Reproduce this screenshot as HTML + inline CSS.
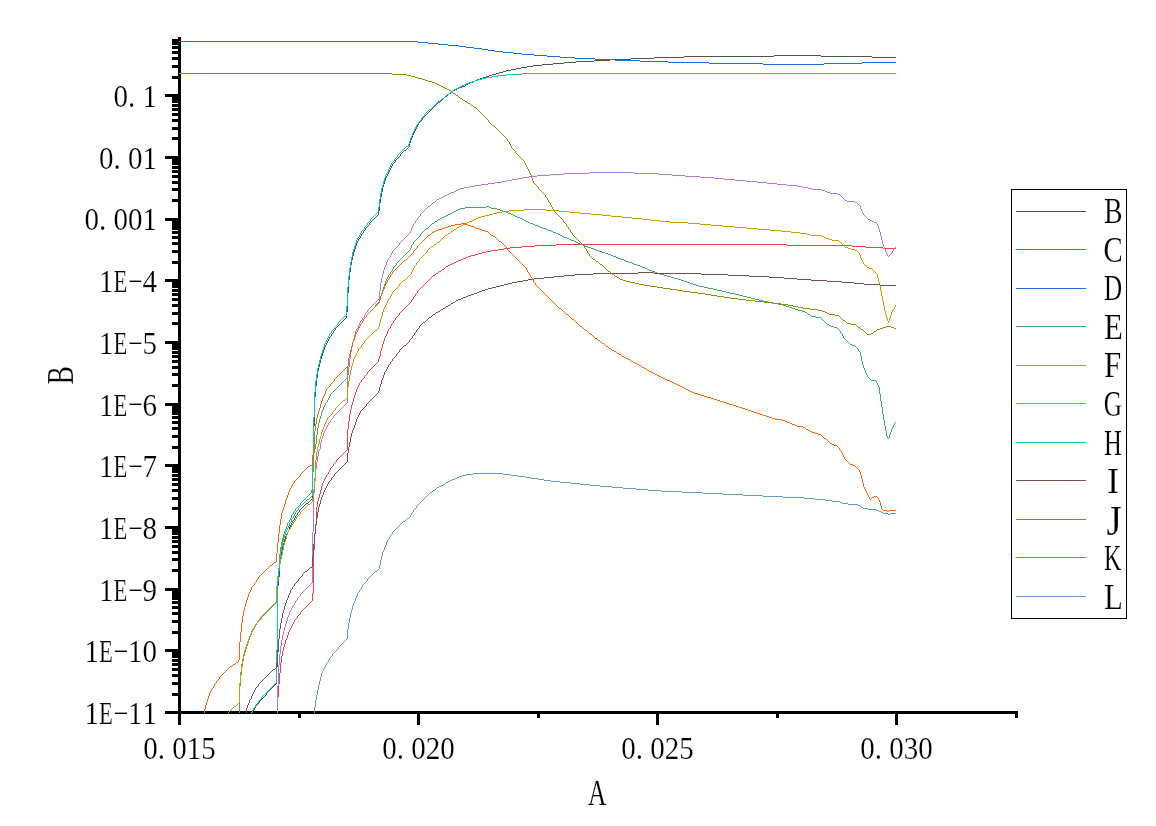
<!DOCTYPE html>
<html><head><meta charset="utf-8"><title>Graph</title>
<style>
html,body{margin:0;padding:0;background:#fff;}
body{width:1156px;height:826px;overflow:hidden;}
svg{display:block;}
.t{font-family:"Liberation Serif","Noto Serif CJK SC",serif;fill:#000;stroke:#fff;stroke-width:0.18px;}
.c{fill:none;stroke-width:1;stroke-linejoin:round;stroke-linecap:butt;}
</style></head><body>
<svg width="1156" height="826" viewBox="0 0 1156 826">
<rect width="1156" height="826" fill="#fff"/>
<g id="axes" fill="#000" shape-rendering="crispEdges">
<rect x="178" y="37" width="3" height="688"/>
<rect x="165" y="711" width="852" height="3"/>
<rect x="172" y="693" width="7" height="3"/>
<rect x="172" y="682" width="7" height="3"/>
<rect x="172" y="674" width="7" height="3"/>
<rect x="172" y="668" width="7" height="3"/>
<rect x="172" y="663" width="7" height="3"/>
<rect x="172" y="659" width="7" height="3"/>
<rect x="172" y="655" width="7" height="3"/>
<rect x="172" y="652" width="7" height="3"/>
<rect x="165" y="649" width="14" height="3"/>
<rect x="172" y="631" width="7" height="3"/>
<rect x="172" y="620" width="7" height="3"/>
<rect x="172" y="612" width="7" height="3"/>
<rect x="172" y="606" width="7" height="3"/>
<rect x="172" y="601" width="7" height="3"/>
<rect x="172" y="597" width="7" height="3"/>
<rect x="172" y="594" width="7" height="3"/>
<rect x="172" y="591" width="7" height="3"/>
<rect x="165" y="588" width="14" height="3"/>
<rect x="172" y="569" width="7" height="3"/>
<rect x="172" y="558" width="7" height="3"/>
<rect x="172" y="551" width="7" height="3"/>
<rect x="172" y="545" width="7" height="3"/>
<rect x="172" y="540" width="7" height="3"/>
<rect x="172" y="536" width="7" height="3"/>
<rect x="172" y="532" width="7" height="3"/>
<rect x="172" y="529" width="7" height="3"/>
<rect x="165" y="526" width="14" height="3"/>
<rect x="172" y="507" width="7" height="3"/>
<rect x="172" y="497" width="7" height="3"/>
<rect x="172" y="489" width="7" height="3"/>
<rect x="172" y="483" width="7" height="3"/>
<rect x="172" y="478" width="7" height="3"/>
<rect x="172" y="474" width="7" height="3"/>
<rect x="172" y="470" width="7" height="3"/>
<rect x="172" y="467" width="7" height="3"/>
<rect x="165" y="464" width="14" height="3"/>
<rect x="172" y="446" width="7" height="3"/>
<rect x="172" y="435" width="7" height="3"/>
<rect x="172" y="427" width="7" height="3"/>
<rect x="172" y="421" width="7" height="3"/>
<rect x="172" y="416" width="7" height="3"/>
<rect x="172" y="412" width="7" height="3"/>
<rect x="172" y="409" width="7" height="3"/>
<rect x="172" y="406" width="7" height="3"/>
<rect x="165" y="403" width="14" height="3"/>
<rect x="172" y="384" width="7" height="3"/>
<rect x="172" y="373" width="7" height="3"/>
<rect x="172" y="366" width="7" height="3"/>
<rect x="172" y="360" width="7" height="3"/>
<rect x="172" y="355" width="7" height="3"/>
<rect x="172" y="351" width="7" height="3"/>
<rect x="172" y="347" width="7" height="3"/>
<rect x="172" y="344" width="7" height="3"/>
<rect x="165" y="341" width="14" height="3"/>
<rect x="172" y="322" width="7" height="3"/>
<rect x="172" y="312" width="7" height="3"/>
<rect x="172" y="304" width="7" height="3"/>
<rect x="172" y="298" width="7" height="3"/>
<rect x="172" y="293" width="7" height="3"/>
<rect x="172" y="289" width="7" height="3"/>
<rect x="172" y="285" width="7" height="3"/>
<rect x="172" y="282" width="7" height="3"/>
<rect x="165" y="279" width="14" height="3"/>
<rect x="172" y="261" width="7" height="3"/>
<rect x="172" y="250" width="7" height="3"/>
<rect x="172" y="242" width="7" height="3"/>
<rect x="172" y="236" width="7" height="3"/>
<rect x="172" y="231" width="7" height="3"/>
<rect x="172" y="227" width="7" height="3"/>
<rect x="172" y="224" width="7" height="3"/>
<rect x="172" y="221" width="7" height="3"/>
<rect x="165" y="218" width="14" height="3"/>
<rect x="172" y="199" width="7" height="3"/>
<rect x="172" y="188" width="7" height="3"/>
<rect x="172" y="181" width="7" height="3"/>
<rect x="172" y="175" width="7" height="3"/>
<rect x="172" y="170" width="7" height="3"/>
<rect x="172" y="166" width="7" height="3"/>
<rect x="172" y="162" width="7" height="3"/>
<rect x="172" y="159" width="7" height="3"/>
<rect x="165" y="156" width="14" height="3"/>
<rect x="172" y="137" width="7" height="3"/>
<rect x="172" y="127" width="7" height="3"/>
<rect x="172" y="119" width="7" height="3"/>
<rect x="172" y="113" width="7" height="3"/>
<rect x="172" y="108" width="7" height="3"/>
<rect x="172" y="104" width="7" height="3"/>
<rect x="172" y="100" width="7" height="3"/>
<rect x="172" y="97" width="7" height="3"/>
<rect x="165" y="94" width="14" height="3"/>
<rect x="172" y="76" width="7" height="3"/>
<rect x="172" y="65" width="7" height="3"/>
<rect x="172" y="57" width="7" height="3"/>
<rect x="172" y="51" width="7" height="3"/>
<rect x="172" y="46" width="7" height="3"/>
<rect x="172" y="42" width="7" height="3"/>
<rect x="172" y="39" width="7" height="3"/>
<rect x="417" y="711" width="3" height="14"/>
<rect x="656" y="711" width="3" height="14"/>
<rect x="895" y="711" width="3" height="14"/>
<rect x="298" y="711" width="3" height="7"/>
<rect x="537" y="711" width="3" height="7"/>
<rect x="776" y="711" width="3" height="7"/>
<rect x="1015" y="711" width="3" height="7"/>
</g>
<g id="curves" shape-rendering="crispEdges" fill="none" stroke-width="1">
<path stroke="#515151" d="M774 55.5h47M684 56.5h90M821 56.5h51M654 57.5h30M872 57.5h24M631 58.5h23M610 59.5h21M594 60.5h16M576 61.5h18M564 62.5h12M553 63.5h11M542 64.5h11M533 65.5h9M527 66.5h6M521 67.5h6M516 68.5h5M511 69.5h5M506 70.5h5M503 71.5h3M499 72.5h4M496 73.5h3M492 74.5h4M489 75.5h3M486 76.5h3M483 77.5h3M480 78.5h3M477 79.5h3M475 80.5h2M473 81.5h2M470 82.5h3M468 83.5h2M466 84.5h2M465 85.5h1M462 86.5h3M459 87.5h3M457 88.5h2M455 89.5h2M453 90.5h2M452 91.5h1M451 92.5h1M449 93.5h2M448 94.5h1M447 95.5h1M445 96.5h2M444 97.5h1M443 98.5h1M442 99.5h1M441 100.5h1M440 101.5h1M438 102.5h2M437 103.5h1M436 104.5h1M435 105.5h1M434 106.5h1M433 107.5h1M432 108.5h1M431 109.5h1M430 110.5h1M429 111.5h1M428 112.5h1M427 113.5h1M426 114.5h1M425 115.5h1M424 116.5h1M423 117.5h1M421 120.5h1M420 121.5h1M419 122.5h1M408 147.5h1M407 148.5h1M406 149.5h1M404 150.5h2M403 151.5h1M402 152.5h1M401 153.5h1M399 156.5h1M398 157.5h1M397 158.5h1M396 159.5h1M394 162.5h1M393 163.5h1M377 215.5h1M376 216.5h1M375 217.5h1M374 218.5h1M373 219.5h1M372 220.5h1M371 221.5h1M370 222.5h1M368 225.5h1M367 226.5h1M366 227.5h1M364 230.5h1M362 233.5h1M359 238.5h1M345 318.5h1M344 319.5h1M343 320.5h1M342 321.5h1M341 322.5h1M340 323.5h1M339 324.5h1M338 325.5h1M337 326.5h1M336 327.5h1M334 330.5h1M332 333.5h1M330 336.5h1M311 499.5h1M310 500.5h1M309 501.5h1M308 502.5h1M306 503.5h2M305 504.5h1M304 505.5h1M303 506.5h1M302 507.5h1M301 508.5h1M300 509.5h1M298 512.5h1M296 515.5h1M293 520.5h1M275 684.5h1M274 685.5h1M273 686.5h1M272 687.5h1M271 688.5h1M270 689.5h1M269 690.5h1M268 691.5h1M267 692.5h1M265 695.5h1M264 696.5h1M263 697.5h1M262 698.5h1M261 699.5h1M260 700.5h1M258 703.5h1M257 704.5h1M256 705.5h1M253 710.5h1M251 713.5h1M252.5 711v2M254.5 708v2M255.5 706v2M259.5 701v2M266.5 693v2M276.5 667v17M277.5 586v81M278.5 577v9M279.5 564v13M280.5 557v7M281.5 551v6M282.5 546v5M283.5 543v3M284.5 539v4M285.5 536v3M286.5 534v2M287.5 532v2M288.5 530v2M289.5 527v3M290.5 525v2M291.5 523v2M292.5 521v2M294.5 518v2M295.5 516v2M297.5 513v2M299.5 510v2M312.5 470v29M313.5 426v44M314.5 397v29M315.5 386v11M316.5 378v8M317.5 371v7M318.5 367v4M319.5 363v4M320.5 359v4M321.5 356v3M322.5 353v3M323.5 350v3M324.5 347v3M325.5 345v2M326.5 343v2M327.5 341v2M328.5 339v2M329.5 337v2M331.5 334v2M333.5 331v2M335.5 328v2M346.5 312v6M347.5 293v19M348.5 280v13M349.5 272v8M350.5 265v7M351.5 260v5M352.5 256v4M353.5 252v4M354.5 249v3M355.5 246v3M356.5 243v3M357.5 241v2M358.5 239v2M360.5 236v2M361.5 234v2M363.5 231v2M365.5 228v2M369.5 223v2M378.5 211v4M379.5 203v8M380.5 197v6M381.5 192v5M382.5 187v5M383.5 184v3M384.5 181v3M385.5 178v3M386.5 176v2M387.5 174v2M388.5 172v2M389.5 170v2M390.5 168v2M391.5 166v2M392.5 164v2M395.5 160v2M400.5 154v2M409.5 143v4M410.5 140v3M411.5 138v2M412.5 135v3M413.5 133v2M414.5 131v2M415.5 129v2M416.5 127v2M417.5 125v2M418.5 123v2M422.5 118v2"/>
<path stroke="#F14040" d="M556 244.5h231M535 245.5h21M787 245.5h65M522 246.5h13M852 246.5h14M510 247.5h12M866 247.5h17M504 248.5h6M883 248.5h13M498 249.5h6M491 250.5h7M486 251.5h5M482 252.5h4M478 253.5h4M475 254.5h3M471 255.5h4M468 256.5h3M466 257.5h2M463 258.5h3M461 259.5h2M458 260.5h3M456 261.5h2M454 262.5h2M452 263.5h2M450 264.5h2M448 265.5h2M446 266.5h2M445 267.5h1M444 268.5h1M442 269.5h2M441 270.5h1M439 271.5h2M438 272.5h1M436 273.5h2M435 274.5h1M433 275.5h2M432 276.5h1M431 277.5h1M430 278.5h1M429 279.5h1M428 280.5h1M427 281.5h1M426 282.5h1M425 283.5h1M424 284.5h1M423 285.5h1M422 286.5h1M421 287.5h1M420 288.5h1M419 289.5h1M418 290.5h1M416 293.5h1M414 296.5h1M412 299.5h1M410 302.5h1M409 303.5h1M408 304.5h1M407 305.5h1M406 306.5h1M405 307.5h1M404 308.5h1M403 309.5h1M402 310.5h1M401 311.5h1M400 312.5h1M398 315.5h1M397 316.5h1M396 317.5h1M394 320.5h1M392 323.5h1M389 328.5h1M377 362.5h1M376 363.5h1M375 364.5h1M374 365.5h1M373 366.5h1M372 367.5h1M371 368.5h1M370 369.5h1M369 370.5h1M368 371.5h1M366 374.5h1M365 375.5h1M363 378.5h1M362 379.5h1M360 382.5h1M346 450.5h1M345 451.5h1M344 452.5h1M343 453.5h1M342 454.5h1M341 455.5h1M340 456.5h1M339 457.5h1M338 458.5h1M337 459.5h1M335 462.5h1M334 463.5h1M332 466.5h1M331 467.5h1M327 474.5h1M311 601.5h1M310 602.5h1M309 603.5h1M308 604.5h1M307 605.5h1M306 606.5h1M305 607.5h1M304 608.5h1M303 609.5h1M302 610.5h1M301 611.5h1M299 614.5h1M298 615.5h1M296 618.5h1M295 619.5h1M277.5 697v16M278.5 684v13M279.5 673v11M280.5 663v10M281.5 656v7M282.5 651v5M283.5 647v4M284.5 644v3M285.5 640v4M286.5 638v2M287.5 635v3M288.5 632v3M289.5 630v2M290.5 628v2M291.5 626v2M292.5 624v2M293.5 622v2M294.5 620v2M297.5 616v2M300.5 612v2M312.5 593v8M313.5 550v43M314.5 533v17M315.5 524v9M316.5 507v17M317.5 501v6M318.5 498v3M319.5 494v4M320.5 490v4M321.5 486v4M322.5 483v3M323.5 481v2M324.5 479v2M325.5 477v2M326.5 475v2M328.5 472v2M329.5 470v2M330.5 468v2M333.5 464v2M336.5 460v2M347.5 429v21M348.5 421v8M349.5 414v7M350.5 409v5M351.5 405v4M352.5 402v3M353.5 398v4M354.5 395v3M355.5 392v3M356.5 389v3M357.5 387v2M358.5 385v2M359.5 383v2M361.5 380v2M364.5 376v2M367.5 372v2M378.5 359v3M379.5 356v3M380.5 351v5M381.5 348v3M382.5 344v4M383.5 341v3M384.5 338v3M385.5 336v2M386.5 334v2M387.5 331v3M388.5 329v2M390.5 326v2M391.5 324v2M393.5 321v2M395.5 318v2M399.5 313v2M411.5 300v2M413.5 297v2M415.5 294v2M417.5 291v2"/>
<path stroke="#1A6FDF" d="M179 41.5h239M418 42.5h10M428 43.5h10M438 44.5h10M448 45.5h11M459 46.5h7M466 47.5h8M474 48.5h8M482 49.5h6M488 50.5h7M495 51.5h8M503 52.5h10M513 53.5h9M522 54.5h12M534 55.5h13M547 56.5h13M560 57.5h15M575 58.5h20M595 59.5h20M615 60.5h25M640 61.5h28M668 62.5h41M862 62.5h34M709 63.5h54M824 63.5h38M763 64.5h61"/>
<path stroke="#37AD6B" d="M486 206.5h3M465 207.5h21M489 207.5h2M460 208.5h5M491 208.5h6M458 209.5h2M497 209.5h3M456 210.5h2M500 210.5h3M454 211.5h2M503 211.5h3M452 212.5h2M506 212.5h2M450 213.5h2M508 213.5h3M448 214.5h2M511 214.5h2M446 215.5h2M513 215.5h2M444 216.5h2M515 216.5h2M442 217.5h2M517 217.5h3M440 218.5h2M520 218.5h2M438 219.5h2M522 219.5h2M437 220.5h1M524 220.5h2M435 221.5h2M526 221.5h2M434 222.5h1M528 222.5h2M432 223.5h2M530 223.5h3M431 224.5h1M533 224.5h2M430 225.5h1M535 225.5h3M429 226.5h1M538 226.5h2M428 227.5h1M540 227.5h3M426 228.5h2M543 228.5h3M425 229.5h1M546 229.5h2M424 230.5h1M548 230.5h3M423 231.5h1M551 231.5h2M422 232.5h1M553 232.5h3M421 233.5h1M556 233.5h2M558 234.5h2M560 235.5h2M419 236.5h1M562 236.5h2M418 237.5h1M564 237.5h3M417 238.5h1M567 238.5h2M416 239.5h1M569 239.5h2M415 240.5h1M571 240.5h3M414 241.5h1M574 241.5h2M576 242.5h2M578 243.5h2M412 244.5h1M580 244.5h3M583 245.5h2M585 246.5h3M588 247.5h3M591 248.5h3M594 249.5h2M409 250.5h1M596 250.5h3M408 251.5h1M599 251.5h3M407 252.5h1M602 252.5h3M406 253.5h1M605 253.5h3M405 254.5h1M608 254.5h3M404 255.5h1M611 255.5h2M403 256.5h1M613 256.5h3M402 257.5h1M616 257.5h2M401 258.5h1M618 258.5h3M400 259.5h1M621 259.5h3M399 260.5h1M624 260.5h2M398 261.5h1M626 261.5h3M397 262.5h1M629 262.5h3M632 263.5h2M634 264.5h3M395 265.5h1M637 265.5h3M394 266.5h1M640 266.5h2M642 267.5h3M645 268.5h2M647 269.5h2M649 270.5h3M391 271.5h1M652 271.5h3M655 272.5h2M657 273.5h3M389 274.5h1M660 274.5h4M664 275.5h3M667 276.5h4M671 277.5h3M674 278.5h4M678 279.5h3M681 280.5h3M684 281.5h3M687 282.5h3M690 283.5h3M693 284.5h3M696 285.5h3M699 286.5h5M704 287.5h4M708 288.5h5M713 289.5h4M717 290.5h5M722 291.5h4M726 292.5h4M730 293.5h5M735 294.5h4M739 295.5h4M743 296.5h4M747 297.5h4M751 298.5h4M755 299.5h4M759 300.5h4M763 301.5h5M378 302.5h1M768 302.5h5M377 303.5h1M773 303.5h5M376 304.5h1M778 304.5h5M783 305.5h3M786 306.5h3M374 307.5h1M789 307.5h3M373 308.5h1M792 308.5h3M372 309.5h1M795 309.5h3M371 310.5h1M798 310.5h4M370 311.5h1M802 311.5h3M369 312.5h1M805 312.5h2M368 313.5h1M807 313.5h1M367 314.5h1M808 314.5h2M810 315.5h1M811 316.5h5M365 317.5h1M816 317.5h5M364 318.5h1M821 318.5h1M822 319.5h1M823 320.5h1M824 321.5h1M825 322.5h1M361 323.5h1M826 323.5h1M827 324.5h2M829 325.5h2M831 326.5h3M834 327.5h3M837 328.5h1M838 329.5h1M839 330.5h1M841 333.5h1M844 338.5h1M845 339.5h1M846 340.5h1M847 341.5h1M848 342.5h1M849 343.5h1M850 344.5h2M852 345.5h3M855 346.5h1M856 347.5h1M857 348.5h1M859 351.5h1M868 377.5h1M346 378.5h1M869 378.5h1M345 379.5h1M870 379.5h1M344 380.5h1M871 380.5h5M343 381.5h1M342 382.5h1M341 383.5h1M340 384.5h1M339 385.5h1M338 386.5h1M337 387.5h1M336 388.5h1M335 389.5h1M334 390.5h1M333 391.5h1M332 392.5h1M331 393.5h1M326 402.5h1M895 422.5h1M888 438.5h1M310 493.5h1M309 494.5h1M308 495.5h1M307 496.5h1M306 497.5h1M305 498.5h1M304 499.5h1M303 500.5h1M302 501.5h1M301 502.5h1M299 505.5h1M298 506.5h1M297 507.5h1M296 508.5h1M294 511.5h1M292 514.5h1M288 522.5h1M275 603.5h1M274 604.5h1M273 605.5h1M272 606.5h1M271 607.5h1M270 608.5h1M269 609.5h1M268 610.5h1M267 611.5h1M266 612.5h1M265 613.5h1M264 614.5h1M263 615.5h1M262 616.5h1M260 619.5h1M259 620.5h1M258 621.5h1M257 622.5h1M253 629.5h1M239.5 686v27M240.5 675v11M241.5 667v8M242.5 661v6M243.5 656v5M244.5 652v4M245.5 649v3M246.5 646v3M247.5 643v3M248.5 640v3M249.5 637v3M250.5 635v2M251.5 632v3M252.5 630v2M254.5 627v2M255.5 625v2M256.5 623v2M261.5 617v2M276.5 589v14M277.5 579v10M278.5 568v11M279.5 554v14M280.5 547v7M281.5 542v5M282.5 538v4M283.5 534v4M284.5 531v3M285.5 529v2M286.5 526v3M287.5 523v3M289.5 520v2M290.5 518v2M291.5 515v3M293.5 512v2M295.5 509v2M300.5 503v2M311.5 490v3M312.5 472v18M313.5 453v19M314.5 444v9M315.5 444v5M316.5 435v9M317.5 428v7M318.5 423v5M319.5 419v4M320.5 416v3M321.5 412v4M322.5 410v2M323.5 407v3M324.5 405v2M325.5 403v2M327.5 400v2M328.5 398v2M329.5 396v2M330.5 394v2M347.5 366v12M348.5 358v8M349.5 354v4M350.5 350v4M351.5 346v4M352.5 342v4M353.5 340v2M354.5 337v3M355.5 334v3M356.5 332v2M357.5 330v2M358.5 328v2M359.5 326v2M360.5 324v2M362.5 321v2M363.5 319v2M366.5 315v2M375.5 305v2M379.5 300v2M380.5 296v4M381.5 293v3M382.5 290v3M383.5 287v3M384.5 284v3M385.5 281v3M386.5 279v2M387.5 277v2M388.5 275v2M390.5 272v2M392.5 269v2M393.5 267v2M396.5 263v2M410.5 248v2M411.5 245v3M413.5 242v2M420.5 234v2M840.5 331v2M842.5 334v2M843.5 336v2M858.5 349v2M860.5 352v4M861.5 356v5M862.5 361v4M863.5 365v3M864.5 368v2M865.5 370v3M866.5 373v2M867.5 375v2M876.5 381v2M877.5 383v2M878.5 385v2M879.5 387v7M880.5 394v7M881.5 401v6M882.5 407v7M883.5 414v6M884.5 420v6M885.5 426v5M886.5 431v5M887.5 436v2M889.5 435v3M890.5 432v3M891.5 429v3M892.5 427v2M893.5 425v2M894.5 423v2"/>
<path stroke="#B177DE" d="M589 172.5h45M564 173.5h25M634 173.5h25M550 174.5h14M659 174.5h13M537 175.5h13M672 175.5h13M529 176.5h8M685 176.5h15M523 177.5h6M700 177.5h14M518 178.5h5M714 178.5h10M512 179.5h6M724 179.5h11M507 180.5h5M735 180.5h11M502 181.5h5M746 181.5h11M495 182.5h7M757 182.5h10M488 183.5h7M767 183.5h10M481 184.5h7M777 184.5h10M475 185.5h6M787 185.5h10M469 186.5h6M797 186.5h6M464 187.5h5M803 187.5h5M460 188.5h4M808 188.5h4M458 189.5h2M812 189.5h10M456 190.5h2M822 190.5h3M454 191.5h2M825 191.5h2M451 192.5h3M827 192.5h3M449 193.5h2M830 193.5h8M447 194.5h2M838 194.5h2M445 195.5h2M840 195.5h1M443 196.5h2M841 196.5h1M441 197.5h2M842 197.5h1M439 198.5h2M843 198.5h1M437 199.5h2M844 199.5h1M436 200.5h1M845 200.5h2M435 201.5h1M847 201.5h8M433 202.5h2M855 202.5h2M432 203.5h1M857 203.5h1M431 204.5h1M858 204.5h1M430 205.5h1M859 205.5h1M428 206.5h2M427 207.5h1M426 208.5h1M425 209.5h1M424 210.5h1M423 211.5h1M422 212.5h1M421 213.5h1M864 215.5h1M419 216.5h1M865 216.5h1M418 217.5h1M866 217.5h1M867 218.5h1M868 219.5h2M416 220.5h1M870 220.5h2M872 221.5h2M874 222.5h2M414 223.5h1M876 223.5h1M409 233.5h1M408 234.5h1M407 235.5h1M406 236.5h1M405 237.5h1M404 238.5h1M403 239.5h1M402 240.5h1M401 241.5h1M400 242.5h1M398 245.5h1M397 246.5h1M396 247.5h1M895 247.5h1M395 248.5h1M894 248.5h1M394 249.5h1M393 250.5h1M891 253.5h1M890 254.5h1M889 255.5h1M888 256.5h1M389 257.5h1M378 299.5h1M377 300.5h1M376 301.5h1M375 302.5h1M374 303.5h1M373 304.5h1M372 305.5h1M371 306.5h1M370 307.5h1M369 308.5h1M368 309.5h1M366 312.5h1M363 317.5h1M361 320.5h1M357 328.5h1M346 403.5h1M345 404.5h1M344 405.5h1M343 406.5h1M342 407.5h1M341 408.5h1M340 409.5h1M339 410.5h1M338 411.5h1M337 412.5h1M336 413.5h1M335 414.5h1M334 415.5h1M332 418.5h1M331 419.5h1M329 422.5h1M311 583.5h1M310 584.5h1M309 585.5h1M308 586.5h1M307 587.5h1M306 588.5h1M305 589.5h1M304 590.5h1M303 591.5h1M302 592.5h1M301 593.5h1M299 596.5h1M298 597.5h1M296 600.5h1M293 605.5h1M277.5 686v27M278.5 665v21M279.5 654v11M280.5 646v8M281.5 640v6M282.5 635v5M283.5 631v4M284.5 627v4M285.5 624v3M286.5 621v3M287.5 617v4M288.5 615v2M289.5 612v3M290.5 610v2M291.5 608v2M292.5 606v2M294.5 603v2M295.5 601v2M297.5 598v2M300.5 594v2M312.5 532v51M313.5 493v39M314.5 481v12M315.5 469v12M316.5 462v7M317.5 456v6M318.5 451v5M319.5 449v2M320.5 443v6M321.5 439v4M322.5 436v3M323.5 433v3M324.5 431v2M325.5 429v2M326.5 427v2M327.5 425v2M328.5 423v2M330.5 420v2M333.5 416v2M347.5 375v28M348.5 367v8M349.5 359v8M350.5 352v7M351.5 347v5M352.5 342v5M353.5 339v3M354.5 335v4M355.5 331v4M356.5 329v2M358.5 325v3M359.5 323v2M360.5 321v2M362.5 318v2M364.5 315v2M365.5 313v2M367.5 310v2M379.5 291v8M380.5 283v8M381.5 278v5M382.5 274v4M383.5 270v4M384.5 267v3M385.5 265v2M386.5 262v3M387.5 260v2M388.5 258v2M390.5 255v2M391.5 253v2M392.5 251v2M399.5 243v2M410.5 231v2M411.5 228v3M412.5 226v2M413.5 224v2M415.5 221v2M417.5 218v2M420.5 214v2M860.5 206v3M861.5 209v2M862.5 211v2M863.5 213v2M877.5 224v2M878.5 226v3M879.5 229v3M880.5 232v4M881.5 236v4M882.5 240v4M883.5 244v3M884.5 247v2M885.5 249v3M886.5 252v2M887.5 254v2M892.5 251v2M893.5 249v2"/>
<path stroke="#CC9900" d="M524 209.5h22M509 210.5h15M546 210.5h13M502 211.5h7M559 211.5h10M497 212.5h5M569 212.5h11M493 213.5h4M580 213.5h11M489 214.5h4M591 214.5h11M485 215.5h4M602 215.5h9M481 216.5h4M611 216.5h11M478 217.5h3M622 217.5h10M476 218.5h2M632 218.5h10M474 219.5h2M642 219.5h9M472 220.5h2M651 220.5h9M469 221.5h3M660 221.5h10M467 222.5h2M670 222.5h18M465 223.5h2M688 223.5h12M463 224.5h2M700 224.5h11M461 225.5h2M711 225.5h12M459 226.5h2M723 226.5h12M457 227.5h2M735 227.5h12M456 228.5h1M747 228.5h11M454 229.5h2M758 229.5h12M453 230.5h1M770 230.5h11M451 231.5h2M781 231.5h10M450 232.5h1M791 232.5h9M448 233.5h2M800 233.5h7M447 234.5h1M807 234.5h3M445 235.5h2M810 235.5h11M444 236.5h1M821 236.5h3M443 237.5h1M824 237.5h2M442 238.5h1M826 238.5h3M441 239.5h1M829 239.5h3M440 240.5h1M832 240.5h7M439 241.5h1M839 241.5h1M437 242.5h2M840 242.5h1M436 243.5h1M841 243.5h1M434 244.5h2M842 244.5h1M433 245.5h1M843 245.5h1M431 246.5h2M844 246.5h1M430 247.5h1M845 247.5h3M429 248.5h1M848 248.5h3M428 249.5h1M851 249.5h4M855 250.5h2M857 251.5h1M426 252.5h1M858 252.5h1M425 253.5h1M424 254.5h1M423 255.5h1M422 256.5h1M421 257.5h1M420 258.5h1M418 261.5h1M417 262.5h1M864 264.5h1M415 265.5h1M865 265.5h1M866 266.5h1M867 267.5h2M869 268.5h3M872 269.5h1M873 270.5h1M874 271.5h1M875 272.5h1M876 273.5h1M410 274.5h1M409 275.5h1M408 276.5h1M407 277.5h1M406 278.5h1M405 279.5h1M403 280.5h2M402 281.5h1M401 282.5h1M400 283.5h1M398 286.5h1M397 287.5h1M396 288.5h1M395 289.5h1M394 290.5h1M393 291.5h1M389 298.5h1M893 309.5h1M377 329.5h1M375 330.5h2M374 331.5h1M373 332.5h1M372 333.5h1M371 334.5h1M370 335.5h1M369 336.5h1M368 337.5h1M367 338.5h1M366 339.5h1M365 340.5h1M363 343.5h1M362 344.5h1M360 347.5h1M359 348.5h1M346 398.5h1M345 399.5h1M343 400.5h2M342 401.5h1M341 402.5h1M340 403.5h1M339 404.5h1M338 405.5h1M337 406.5h1M336 407.5h1M334 410.5h1M333 411.5h1M331 414.5h1M330 415.5h1M329 416.5h1M328 417.5h1M311 502.5h1M310 503.5h1M308 504.5h2M307 505.5h1M306 506.5h1M305 507.5h1M304 508.5h1M303 509.5h1M302 510.5h1M301 511.5h1M299 514.5h1M298 515.5h1M297 516.5h1M294 521.5h1M292 524.5h1M289 529.5h1M275 602.5h1M274 603.5h1M273 604.5h1M272 605.5h1M271 606.5h1M270 607.5h1M269 608.5h1M268 609.5h1M267 610.5h1M266 611.5h1M265 612.5h1M264 613.5h1M263 614.5h1M262 615.5h1M261 616.5h1M259 619.5h1M258 620.5h1M256 623.5h1M253 628.5h1M238 703.5h1M237 704.5h1M236 705.5h1M234 706.5h2M233 707.5h1M232 708.5h1M231 709.5h1M230 710.5h1M229 711.5h1M228 712.5h1M239.5 683v20M240.5 672v11M241.5 664v8M242.5 659v5M243.5 654v5M244.5 650v4M245.5 647v3M246.5 644v3M247.5 641v3M248.5 639v2M249.5 636v3M250.5 634v2M251.5 631v3M252.5 629v2M254.5 626v2M255.5 624v2M257.5 621v2M260.5 617v2M276.5 586v16M277.5 576v10M278.5 570v6M279.5 564v6M280.5 559v5M281.5 555v4M282.5 550v5M283.5 545v5M284.5 542v3M285.5 539v3M286.5 535v4M287.5 532v3M288.5 530v2M290.5 527v2M291.5 525v2M293.5 522v2M295.5 519v2M296.5 517v2M300.5 512v2M312.5 498v4M313.5 489v9M314.5 478v11M315.5 460v18M316.5 452v8M317.5 447v5M318.5 444v3M319.5 439v5M320.5 436v3M321.5 432v4M322.5 429v3M323.5 427v2M324.5 424v3M325.5 422v2M326.5 420v2M327.5 418v2M332.5 412v2M335.5 408v2M347.5 387v11M348.5 381v6M349.5 375v6M350.5 370v5M351.5 366v4M352.5 363v3M353.5 359v4M354.5 357v2M355.5 355v2M356.5 353v2M357.5 351v2M358.5 349v2M361.5 345v2M364.5 341v2M378.5 327v2M379.5 323v4M380.5 319v4M381.5 316v3M382.5 312v4M383.5 309v3M384.5 307v2M385.5 305v2M386.5 303v2M387.5 301v2M388.5 299v2M390.5 296v2M391.5 294v2M392.5 292v2M399.5 284v2M411.5 272v2M412.5 270v2M413.5 268v2M414.5 266v2M416.5 263v2M419.5 259v2M427.5 250v2M859.5 253v2M860.5 255v3M861.5 258v2M862.5 260v2M863.5 262v2M877.5 274v4M878.5 278v4M879.5 282v3M880.5 285v6M881.5 291v5M882.5 296v5M883.5 301v5M884.5 306v5M885.5 311v4M886.5 315v3M887.5 318v3M888.5 321v2M889.5 318v3M890.5 315v3M891.5 312v3M892.5 310v2M894.5 307v2M895.5 305v2"/>
<path stroke="#00CBCC" d="M522 73.5h374M507 74.5h15M498 75.5h9M492 76.5h6M486 77.5h6M482 78.5h4M478 79.5h4M475 80.5h3M472 81.5h3M469 82.5h3M466 83.5h3M464 84.5h2M462 85.5h2M460 86.5h2M458 87.5h2M456 88.5h2M454 89.5h2M453 90.5h1M452 91.5h1M450 92.5h2M449 93.5h1M447 94.5h2M446 95.5h1M445 96.5h1M444 97.5h1M442 98.5h2M441 99.5h1M440 100.5h1M438 101.5h2M437 102.5h1M436 103.5h1M435 104.5h1M434 105.5h1M433 106.5h1M432 107.5h1M431 108.5h1M429 109.5h2M428 110.5h1M427 111.5h1M426 112.5h1M425 113.5h1M423 116.5h1M422 117.5h1M420 120.5h1M419 121.5h1M417 124.5h1M406 146.5h2M405 147.5h1M404 148.5h1M403 149.5h1M402 150.5h1M401 151.5h1M400 152.5h1M399 153.5h1M398 154.5h1M396 157.5h1M395 158.5h1M393 161.5h1M392 162.5h1M387 172.5h1M377 212.5h1M376 213.5h1M375 214.5h1M374 215.5h1M373 216.5h1M372 217.5h1M371 218.5h1M369 221.5h1M368 222.5h1M366 225.5h1M365 226.5h1M363 229.5h1M362 230.5h1M358 237.5h1M344 316.5h2M343 317.5h1M342 318.5h1M341 319.5h1M340 320.5h1M339 321.5h1M337 324.5h1M336 325.5h1M335 326.5h1M333 329.5h1M332 330.5h1M330 333.5h1M311 496.5h1M310 497.5h1M309 498.5h1M307 499.5h2M306 500.5h1M305 501.5h1M304 502.5h1M303 503.5h1M302 504.5h1M301 505.5h1M300 506.5h1M299 507.5h1M297 510.5h1M296 511.5h1M292 518.5h1M290 522.5h1M275 683.5h1M274 684.5h1M273 685.5h1M272 686.5h1M271 687.5h1M270 688.5h1M269 689.5h1M268 690.5h1M267 691.5h1M266 692.5h1M265 693.5h1M264 694.5h1M263 695.5h1M262 696.5h1M260 699.5h1M259 700.5h1M257 703.5h1M256 704.5h1M254 707.5h1M251 712.5h1M252.5 710v2M253.5 708v2M255.5 705v2M258.5 701v2M261.5 697v2M276.5 650v33M277.5 581v69M278.5 571v10M279.5 558v13M280.5 552v6M281.5 547v5M282.5 542v5M283.5 538v4M284.5 535v3M285.5 532v3M286.5 530v2M287.5 528v2M288.5 526v2M289.5 523v3M291.5 519v3M293.5 516v2M294.5 514v2M295.5 512v2M298.5 508v2M312.5 456v40M313.5 417v39M314.5 392v25M315.5 381v11M316.5 374v7M317.5 368v6M318.5 364v4M319.5 360v4M320.5 356v4M321.5 353v3M322.5 350v3M323.5 347v3M324.5 344v3M325.5 342v2M326.5 340v2M327.5 338v2M328.5 336v2M329.5 334v2M331.5 331v2M334.5 327v2M338.5 322v2M346.5 306v10M347.5 287v19M348.5 276v11M349.5 268v8M350.5 262v6M351.5 257v5M352.5 252v5M353.5 249v3M354.5 246v3M355.5 243v3M356.5 240v3M357.5 238v2M359.5 235v2M360.5 233v2M361.5 231v2M364.5 227v2M367.5 223v2M370.5 219v2M378.5 207v5M379.5 199v8M380.5 193v6M381.5 188v5M382.5 185v3M383.5 181v4M384.5 178v3M385.5 175v3M386.5 173v2M388.5 169v3M389.5 167v2M390.5 165v2M391.5 163v2M394.5 159v2M397.5 155v2M408.5 144v2M409.5 141v3M410.5 138v3M411.5 136v2M412.5 133v3M413.5 131v2M414.5 129v2M415.5 127v2M416.5 125v2M418.5 122v2M421.5 118v2M424.5 114v2"/>
<path stroke="#7D4E4E" d="M638 272.5h16M593 273.5h45M654 273.5h47M575 274.5h18M701 274.5h27M564 275.5h11M728 275.5h21M554 276.5h10M749 276.5h20M544 277.5h10M769 277.5h15M534 278.5h10M784 278.5h13M528 279.5h6M797 279.5h14M523 280.5h5M811 280.5h16M517 281.5h6M827 281.5h15M512 282.5h5M842 282.5h12M508 283.5h4M854 283.5h10M504 284.5h4M864 284.5h16M500 285.5h4M880 285.5h16M496 286.5h4M492 287.5h4M488 288.5h4M485 289.5h3M482 290.5h3M479 291.5h3M477 292.5h2M474 293.5h3M471 294.5h3M468 295.5h3M466 296.5h2M463 297.5h3M461 298.5h2M458 299.5h3M456 300.5h2M455 301.5h1M453 302.5h2M451 303.5h2M450 304.5h1M448 305.5h2M446 306.5h2M445 307.5h1M443 308.5h2M441 309.5h2M440 310.5h1M438 311.5h2M436 312.5h2M435 313.5h1M433 314.5h2M432 315.5h1M431 316.5h1M429 317.5h2M428 318.5h1M427 319.5h1M426 320.5h1M425 321.5h1M423 322.5h2M422 323.5h1M421 324.5h1M420 325.5h1M418 328.5h1M417 329.5h1M415 332.5h1M413 335.5h1M411 338.5h1M410 339.5h1M408 342.5h1M407 343.5h1M406 344.5h1M404 345.5h2M403 346.5h1M402 347.5h1M401 348.5h1M400 349.5h1M398 352.5h1M397 353.5h1M395 356.5h1M394 357.5h1M393 358.5h1M391 361.5h1M389 364.5h1M385 371.5h1M377 393.5h1M376 394.5h1M375 395.5h1M374 396.5h1M373 397.5h1M372 398.5h1M371 399.5h1M370 400.5h1M369 401.5h1M368 402.5h1M367 403.5h1M365 406.5h1M364 407.5h1M363 408.5h1M362 409.5h1M361 410.5h1M346 462.5h1M345 463.5h1M344 464.5h1M343 465.5h1M342 466.5h1M341 467.5h1M340 468.5h1M339 469.5h1M338 470.5h1M337 471.5h1M336 472.5h1M335 473.5h1M333 476.5h1M332 477.5h1M330 480.5h1M329 481.5h1M310 567.5h2M309 568.5h1M308 569.5h1M307 570.5h1M305 571.5h2M304 572.5h1M303 573.5h1M301 576.5h1M300 577.5h1M299 578.5h1M297 581.5h1M296 582.5h1M295 583.5h1M293 586.5h1M291 589.5h1M275 668.5h1M273 669.5h2M272 670.5h1M271 671.5h1M270 672.5h1M269 673.5h1M268 674.5h1M267 675.5h1M266 676.5h1M265 677.5h1M264 678.5h1M263 679.5h1M262 680.5h1M261 681.5h1M260 682.5h1M259 683.5h1M257 686.5h1M256 687.5h1M250 699.5h1M246.5 708v5M247.5 705v3M248.5 703v2M249.5 700v3M251.5 696v3M252.5 694v2M253.5 692v2M254.5 690v2M255.5 688v2M258.5 684v2M276.5 663v5M277.5 652v11M278.5 639v13M279.5 629v10M280.5 623v6M281.5 618v5M282.5 613v5M283.5 610v3M284.5 606v4M285.5 603v3M286.5 600v3M287.5 598v2M288.5 595v3M289.5 593v2M290.5 590v3M292.5 587v2M294.5 584v2M298.5 579v2M302.5 574v2M312.5 556v11M313.5 544v12M314.5 534v10M315.5 525v9M316.5 518v7M317.5 512v6M318.5 507v5M319.5 504v3M320.5 500v4M321.5 497v3M322.5 495v2M323.5 492v3M324.5 490v2M325.5 488v2M326.5 486v2M327.5 484v2M328.5 482v2M331.5 478v2M334.5 474v2M347.5 453v9M348.5 447v6M349.5 442v5M350.5 437v5M351.5 433v4M352.5 430v3M353.5 428v2M354.5 425v3M355.5 422v3M356.5 419v3M357.5 417v2M358.5 415v2M359.5 413v2M360.5 411v2M366.5 404v2M378.5 391v2M379.5 387v4M380.5 384v3M381.5 380v4M382.5 378v2M383.5 375v3M384.5 372v3M386.5 369v2M387.5 367v2M388.5 365v2M390.5 362v2M392.5 359v2M396.5 354v2M399.5 350v2M409.5 340v2M412.5 336v2M414.5 333v2M416.5 330v2M419.5 326v2"/>
<path stroke="#8E8E00" d="M179 73.5h213M392 74.5h15M407 75.5h4M411 76.5h4M415 77.5h3M418 78.5h4M422 79.5h3M425 80.5h3M428 81.5h4M432 82.5h3M435 83.5h2M437 84.5h2M439 85.5h2M441 86.5h2M443 87.5h2M445 88.5h2M447 89.5h2M449 90.5h2M451 91.5h1M452 92.5h1M453 93.5h2M455 94.5h1M456 95.5h2M458 96.5h1M459 97.5h1M460 98.5h2M462 99.5h1M463 100.5h2M465 101.5h2M467 102.5h1M468 103.5h2M470 104.5h1M471 105.5h2M473 106.5h1M474 107.5h2M476 108.5h1M477 109.5h1M478 110.5h1M479 111.5h1M480 112.5h1M481 113.5h1M482 114.5h1M483 115.5h1M484 116.5h1M485 117.5h1M486 118.5h1M487 119.5h1M489 122.5h1M490 123.5h1M491 124.5h1M492 125.5h2M494 126.5h1M495 127.5h1M496 128.5h1M497 129.5h1M498 130.5h1M499 131.5h1M500 132.5h1M501 133.5h1M502 134.5h1M503 135.5h1M504 136.5h1M505 137.5h1M506 138.5h1M508 141.5h1M512 148.5h1M513 149.5h1M514 150.5h1M516 153.5h1M517 154.5h1M518 155.5h1M519 156.5h1M520 157.5h1M521 158.5h1M522 159.5h1M523 160.5h1M534 183.5h1M535 184.5h1M536 185.5h1M537 186.5h1M539 189.5h1M540 190.5h1M541 191.5h1M542 192.5h1M543 193.5h1M544 194.5h1M546 197.5h1M549 202.5h1M553 209.5h1M555 212.5h1M556 213.5h1M557 214.5h1M558 215.5h1M559 216.5h1M560 217.5h1M561 218.5h1M562 219.5h1M564 222.5h1M565 223.5h1M567 226.5h1M569 229.5h1M571 232.5h1M573 235.5h1M574 236.5h1M575 237.5h1M576 238.5h1M577 239.5h1M578 240.5h1M579 241.5h1M580 242.5h1M581 243.5h1M582 244.5h1M583 245.5h1M585 248.5h1M588 253.5h1M590 256.5h1M591 257.5h1M592 258.5h1M593 259.5h2M595 260.5h1M596 261.5h2M598 262.5h1M599 263.5h1M600 264.5h2M602 265.5h1M603 266.5h1M604 267.5h1M605 268.5h1M606 269.5h1M607 270.5h1M608 271.5h2M610 272.5h1M611 273.5h1M612 274.5h2M614 275.5h1M615 276.5h2M617 277.5h2M619 278.5h1M620 279.5h3M623 280.5h3M626 281.5h4M630 282.5h5M635 283.5h4M639 284.5h5M644 285.5h6M650 286.5h7M657 287.5h6M663 288.5h7M670 289.5h7M677 290.5h6M683 291.5h7M690 292.5h8M698 293.5h7M705 294.5h6M711 295.5h6M717 296.5h7M724 297.5h6M730 298.5h8M738 299.5h8M746 300.5h9M755 301.5h9M764 302.5h8M772 303.5h9M781 304.5h7M788 305.5h5M793 306.5h5M798 307.5h5M803 308.5h7M810 309.5h8M818 310.5h4M822 311.5h3M825 312.5h2M827 313.5h2M829 314.5h6M835 315.5h4M839 316.5h1M840 317.5h1M841 318.5h1M842 319.5h1M843 320.5h2M845 321.5h1M846 322.5h1M847 323.5h4M851 324.5h5M856 325.5h1M857 326.5h1M886 326.5h5M858 327.5h2M883 327.5h3M891 327.5h3M860 328.5h1M880 328.5h3M894 328.5h2M861 329.5h2M877 329.5h3M863 330.5h1M876 330.5h1M864 331.5h1M874 331.5h2M865 332.5h1M873 332.5h1M866 333.5h1M871 333.5h2M867 334.5h4M488.5 120v2M507.5 139v2M509.5 142v2M510.5 144v2M511.5 146v2M515.5 151v2M524.5 161v2M525.5 163v2M526.5 165v2M527.5 167v2M528.5 169v2M529.5 171v2M530.5 173v2M531.5 175v3M532.5 178v3M533.5 181v2M538.5 187v2M545.5 195v2M547.5 198v2M548.5 200v2M550.5 203v2M551.5 205v2M552.5 207v2M554.5 210v2M563.5 220v2M566.5 224v2M568.5 227v2M570.5 230v2M572.5 233v2M584.5 246v2M586.5 249v2M587.5 251v2M589.5 254v2"/>
<path stroke="#FB6501" d="M461 223.5h4M455 224.5h6M465 224.5h3M451 225.5h4M468 225.5h3M448 226.5h3M471 226.5h3M445 227.5h3M474 227.5h2M442 228.5h3M476 228.5h3M438 229.5h4M479 229.5h3M436 230.5h2M482 230.5h3M434 231.5h2M485 231.5h3M432 232.5h2M488 232.5h1M431 233.5h1M489 233.5h1M430 234.5h1M490 234.5h1M428 235.5h2M491 235.5h2M427 236.5h1M493 236.5h2M426 237.5h1M495 237.5h1M425 238.5h1M496 238.5h1M424 239.5h1M497 239.5h1M423 240.5h1M498 240.5h1M422 241.5h1M499 241.5h2M421 242.5h1M501 242.5h1M420 243.5h1M502 243.5h1M419 244.5h1M503 244.5h1M418 245.5h1M504 245.5h1M505 246.5h1M416 248.5h1M415 249.5h1M507 249.5h1M414 250.5h1M508 250.5h1M509 251.5h1M510 252.5h1M412 253.5h1M511 253.5h1M411 254.5h1M512 254.5h1M410 255.5h1M513 255.5h1M409 256.5h1M514 256.5h1M408 257.5h1M515 257.5h1M407 258.5h1M516 258.5h1M406 259.5h1M517 259.5h1M404 260.5h2M518 260.5h1M403 261.5h1M519 261.5h1M402 262.5h1M520 262.5h1M401 263.5h1M521 263.5h1M400 264.5h1M522 264.5h1M399 265.5h1M523 265.5h1M398 266.5h1M524 266.5h1M397 267.5h1M525 267.5h1M396 268.5h1M395 269.5h1M394 270.5h1M393 271.5h1M528 272.5h1M391 274.5h1M531 277.5h1M388 279.5h1M534 282.5h1M536 285.5h1M537 286.5h1M538 287.5h1M539 288.5h1M540 289.5h1M541 290.5h1M542 291.5h1M543 292.5h1M544 293.5h1M545 294.5h1M546 295.5h1M547 296.5h1M548 297.5h1M549 298.5h1M550 299.5h1M551 300.5h1M552 301.5h1M553 302.5h1M378 303.5h1M554 303.5h1M377 304.5h1M555 304.5h1M376 305.5h1M556 305.5h1M375 306.5h1M557 306.5h1M374 307.5h1M558 307.5h1M373 308.5h1M559 308.5h2M372 309.5h1M561 309.5h1M371 310.5h1M562 310.5h1M370 311.5h1M563 311.5h1M369 312.5h1M564 312.5h1M368 313.5h1M565 313.5h1M367 314.5h1M566 314.5h2M568 315.5h1M569 316.5h1M365 317.5h1M570 317.5h1M364 318.5h1M571 318.5h1M572 319.5h2M574 320.5h1M575 321.5h1M576 322.5h1M361 323.5h1M577 323.5h1M578 324.5h1M579 325.5h1M580 326.5h2M582 327.5h1M583 328.5h1M584 329.5h1M585 330.5h2M587 331.5h1M588 332.5h1M589 333.5h1M590 334.5h2M592 335.5h1M593 336.5h1M594 337.5h1M595 338.5h2M597 339.5h1M598 340.5h2M600 341.5h1M601 342.5h1M602 343.5h2M604 344.5h1M605 345.5h1M606 346.5h2M608 347.5h1M609 348.5h2M611 349.5h1M612 350.5h2M614 351.5h2M616 352.5h1M617 353.5h2M619 354.5h2M621 355.5h1M622 356.5h2M624 357.5h2M626 358.5h2M628 359.5h2M630 360.5h1M631 361.5h2M633 362.5h2M635 363.5h2M637 364.5h2M639 365.5h2M347 366.5h1M641 366.5h1M346 367.5h1M642 367.5h2M345 368.5h1M644 368.5h2M344 369.5h1M646 369.5h1M343 370.5h1M647 370.5h2M342 371.5h1M649 371.5h2M341 372.5h1M651 372.5h2M340 373.5h1M653 373.5h2M339 374.5h1M655 374.5h2M338 375.5h1M657 375.5h2M337 376.5h1M659 376.5h2M336 377.5h1M661 377.5h2M335 378.5h1M663 378.5h2M665 379.5h2M667 380.5h3M333 381.5h1M670 381.5h2M332 382.5h1M672 382.5h2M331 383.5h1M674 383.5h2M676 384.5h2M678 385.5h2M329 386.5h1M680 386.5h2M328 387.5h1M682 387.5h2M327 388.5h1M684 388.5h2M686 389.5h2M688 390.5h2M690 391.5h2M692 392.5h2M694 393.5h4M698 394.5h3M701 395.5h3M704 396.5h3M707 397.5h4M711 398.5h3M714 399.5h3M717 400.5h3M720 401.5h3M723 402.5h3M726 403.5h3M729 404.5h4M733 405.5h3M736 406.5h3M739 407.5h3M742 408.5h3M745 409.5h3M748 410.5h3M751 411.5h3M754 412.5h3M757 413.5h3M760 414.5h3M763 415.5h3M766 416.5h3M769 417.5h3M772 418.5h3M775 419.5h7M782 420.5h3M785 421.5h2M787 422.5h3M790 423.5h2M792 424.5h3M795 425.5h2M797 426.5h6M803 427.5h2M805 428.5h1M806 429.5h2M808 430.5h2M810 431.5h2M812 432.5h3M815 433.5h3M818 434.5h3M821 435.5h1M822 436.5h1M823 437.5h1M824 438.5h2M826 439.5h1M827 440.5h1M828 441.5h1M829 442.5h1M830 443.5h2M832 444.5h2M834 445.5h3M837 446.5h1M838 447.5h1M840 450.5h1M845 459.5h1M846 460.5h1M847 461.5h1M848 462.5h1M849 463.5h1M850 464.5h3M310 465.5h2M853 465.5h2M308 466.5h2M855 466.5h1M307 467.5h1M856 467.5h1M306 468.5h1M857 468.5h1M305 469.5h1M858 469.5h1M304 470.5h1M303 471.5h1M302 472.5h1M301 473.5h1M299 476.5h1M298 477.5h1M297 478.5h1M296 479.5h1M295 480.5h1M293 483.5h1M874 496.5h3M872 497.5h2M877 497.5h1M871 498.5h1M870 499.5h1M882 509.5h1M883 510.5h4M889 510.5h7M887 511.5h2M274 562.5h2M273 563.5h1M272 564.5h1M270 565.5h2M269 566.5h1M268 567.5h1M267 568.5h1M266 569.5h1M265 570.5h1M264 571.5h1M263 572.5h1M262 573.5h1M261 574.5h1M260 575.5h1M259 576.5h1M257 579.5h1M255 582.5h1M253 585.5h1M252 586.5h1M236 662.5h2M235 663.5h1M233 664.5h2M232 665.5h1M230 666.5h2M229 667.5h1M228 668.5h1M227 669.5h1M226 670.5h1M225 671.5h1M224 672.5h1M223 673.5h1M222 674.5h1M221 675.5h1M220 676.5h1M218 679.5h1M217 680.5h1M215 683.5h1M212 688.5h1M204.5 709v4M205.5 705v4M206.5 702v3M207.5 699v3M208.5 696v3M209.5 693v3M210.5 691v2M211.5 689v2M213.5 686v2M214.5 684v2M216.5 681v2M219.5 677v2M238.5 660v2M239.5 642v18M240.5 632v10M241.5 623v9M242.5 616v7M243.5 611v5M244.5 607v4M245.5 603v4M246.5 600v3M247.5 597v3M248.5 594v3M249.5 592v2M250.5 590v2M251.5 587v3M254.5 583v2M256.5 580v2M258.5 577v2M276.5 553v9M277.5 543v10M278.5 533v10M279.5 525v8M280.5 519v6M281.5 513v6M282.5 510v3M283.5 507v3M284.5 504v3M285.5 500v4M286.5 498v2M287.5 495v3M288.5 492v3M289.5 490v2M290.5 488v2M291.5 486v2M292.5 484v2M294.5 481v2M300.5 474v2M312.5 455v10M313.5 445v10M314.5 431v14M315.5 424v7M316.5 418v6M317.5 414v4M318.5 411v3M319.5 408v3M320.5 404v4M321.5 401v3M322.5 398v3M323.5 396v2M324.5 394v2M325.5 391v3M326.5 389v2M330.5 384v2M334.5 379v2M348.5 358v8M349.5 354v4M350.5 350v4M351.5 346v4M352.5 342v4M353.5 340v2M354.5 337v3M355.5 334v3M356.5 332v2M357.5 330v2M358.5 328v2M359.5 326v2M360.5 324v2M362.5 321v2M363.5 319v2M366.5 315v2M379.5 299v4M380.5 296v3M381.5 294v2M382.5 291v3M383.5 289v2M384.5 286v3M385.5 284v2M386.5 282v2M387.5 280v2M389.5 277v2M390.5 275v2M392.5 272v2M413.5 251v2M417.5 246v2M506.5 247v2M526.5 268v2M527.5 270v2M529.5 273v2M530.5 275v2M532.5 278v2M533.5 280v2M535.5 283v2M839.5 448v2M841.5 451v2M842.5 453v2M843.5 455v2M844.5 457v2M859.5 470v2M860.5 472v3M861.5 475v4M862.5 479v4M863.5 483v4M864.5 487v2M865.5 489v2M866.5 491v2M867.5 493v2M868.5 495v2M869.5 497v2M878.5 498v2M879.5 500v2M880.5 502v4M881.5 506v3"/>
<path stroke="#6699CC" d="M473 473.5h30M466 474.5h7M503 474.5h8M462 475.5h4M511 475.5h7M459 476.5h3M518 476.5h7M457 477.5h2M525 477.5h6M455 478.5h2M531 478.5h7M452 479.5h3M538 479.5h6M450 480.5h2M544 480.5h7M448 481.5h2M551 481.5h9M446 482.5h2M560 482.5h11M445 483.5h1M571 483.5h9M443 484.5h2M580 484.5h10M441 485.5h2M590 485.5h10M439 486.5h2M600 486.5h12M437 487.5h2M612 487.5h11M436 488.5h1M623 488.5h13M435 489.5h1M636 489.5h12M433 490.5h2M648 490.5h13M432 491.5h1M661 491.5h21M430 492.5h2M682 492.5h21M429 493.5h1M703 493.5h20M428 494.5h1M723 494.5h20M427 495.5h1M743 495.5h20M426 496.5h1M763 496.5h20M425 497.5h1M783 497.5h21M424 498.5h1M804 498.5h11M423 499.5h1M815 499.5h10M422 500.5h1M825 500.5h7M421 501.5h1M832 501.5h8M420 502.5h1M840 502.5h2M419 503.5h1M842 503.5h6M418 504.5h1M848 504.5h10M417 505.5h1M858 505.5h2M860 506.5h1M861 507.5h2M415 508.5h1M863 508.5h5M414 509.5h1M868 509.5h8M876 510.5h3M879 511.5h2M412 512.5h1M881 512.5h2M883 513.5h5M890 513.5h6M888 514.5h2M409 517.5h1M407 518.5h2M406 519.5h1M405 520.5h1M403 521.5h2M402 522.5h1M401 523.5h1M400 524.5h1M399 525.5h1M398 526.5h1M397 527.5h1M396 528.5h1M395 529.5h1M394 530.5h1M393 531.5h1M391 534.5h1M388 539.5h1M378 569.5h1M377 570.5h1M375 571.5h2M374 572.5h1M373 573.5h1M372 574.5h1M371 575.5h1M370 576.5h1M369 577.5h1M368 578.5h1M366 581.5h1M365 582.5h1M364 583.5h1M363 584.5h1M360 589.5h1M358 592.5h1M346 639.5h1M345 640.5h1M344 641.5h1M343 642.5h1M342 643.5h1M341 644.5h1M340 645.5h1M339 646.5h1M337 649.5h1M336 650.5h1M335 651.5h1M334 652.5h1M333 653.5h1M331 656.5h1M330 657.5h1M327 662.5h1M314.5 707v6M315.5 700v7M316.5 695v5M317.5 690v5M318.5 685v5M319.5 681v4M320.5 677v4M321.5 673v4M322.5 671v2M323.5 669v2M324.5 667v2M325.5 665v2M326.5 663v2M328.5 660v2M329.5 658v2M332.5 654v2M338.5 647v2M347.5 629v10M348.5 623v6M349.5 618v5M350.5 613v5M351.5 610v3M352.5 606v4M353.5 603v3M354.5 601v2M355.5 598v3M356.5 596v2M357.5 593v3M359.5 590v2M361.5 587v2M362.5 585v2M367.5 579v2M379.5 565v4M380.5 560v5M381.5 556v4M382.5 552v4M383.5 550v2M384.5 547v3M385.5 545v2M386.5 542v3M387.5 540v2M389.5 537v2M390.5 535v2M392.5 532v2M410.5 515v2M411.5 513v2M413.5 510v2M416.5 506v2"/>
</g>
<g id="ylabels">
<text class="t" aria-label="1E-11" font-size="29" transform="translate(0 724.0) scale(1 1.070)" y="0"><tspan x="84.50">1</tspan><tspan x="99.00" textLength="13.8" lengthAdjust="spacingAndGlyphs">E</tspan><tspan x="113.00" dy="-5.7" font-size="20" textLength="15.9" lengthAdjust="spacingAndGlyphs">-</tspan><tspan x="128.00" dy="5.7">1</tspan><tspan x="142.50">1</tspan></text>
<text class="t" aria-label="1E-10" font-size="29" transform="translate(0 662.3) scale(1 1.070)" y="0"><tspan x="84.50">1</tspan><tspan x="99.00" textLength="13.8" lengthAdjust="spacingAndGlyphs">E</tspan><tspan x="113.00" dy="-5.7" font-size="20" textLength="15.9" lengthAdjust="spacingAndGlyphs">-</tspan><tspan x="128.00" dy="5.7">1</tspan><tspan x="142.50">0</tspan></text>
<text class="t" aria-label="1E-9" font-size="29" transform="translate(0 600.6) scale(1 1.070)" y="0"><tspan x="99.00">1</tspan><tspan x="113.50" textLength="13.8" lengthAdjust="spacingAndGlyphs">E</tspan><tspan x="127.50" dy="-5.7" font-size="20" textLength="15.9" lengthAdjust="spacingAndGlyphs">-</tspan><tspan x="142.50" dy="5.7">9</tspan></text>
<text class="t" aria-label="1E-8" font-size="29" transform="translate(0 538.9) scale(1 1.070)" y="0"><tspan x="99.00">1</tspan><tspan x="113.50" textLength="13.8" lengthAdjust="spacingAndGlyphs">E</tspan><tspan x="127.50" dy="-5.7" font-size="20" textLength="15.9" lengthAdjust="spacingAndGlyphs">-</tspan><tspan x="142.50" dy="5.7">8</tspan></text>
<text class="t" aria-label="1E-7" font-size="29" transform="translate(0 477.2) scale(1 1.070)" y="0"><tspan x="99.00">1</tspan><tspan x="113.50" textLength="13.8" lengthAdjust="spacingAndGlyphs">E</tspan><tspan x="127.50" dy="-5.7" font-size="20" textLength="15.9" lengthAdjust="spacingAndGlyphs">-</tspan><tspan x="142.50" dy="5.7">7</tspan></text>
<text class="t" aria-label="1E-6" font-size="29" transform="translate(0 415.5) scale(1 1.070)" y="0"><tspan x="99.00">1</tspan><tspan x="113.50" textLength="13.8" lengthAdjust="spacingAndGlyphs">E</tspan><tspan x="127.50" dy="-5.7" font-size="20" textLength="15.9" lengthAdjust="spacingAndGlyphs">-</tspan><tspan x="142.50" dy="5.7">6</tspan></text>
<text class="t" aria-label="1E-5" font-size="29" transform="translate(0 353.8) scale(1 1.070)" y="0"><tspan x="99.00">1</tspan><tspan x="113.50" textLength="13.8" lengthAdjust="spacingAndGlyphs">E</tspan><tspan x="127.50" dy="-5.7" font-size="20" textLength="15.9" lengthAdjust="spacingAndGlyphs">-</tspan><tspan x="142.50" dy="5.7">5</tspan></text>
<text class="t" aria-label="1E-4" font-size="29" transform="translate(0 292.1) scale(1 1.070)" y="0"><tspan x="99.00">1</tspan><tspan x="113.50" textLength="13.8" lengthAdjust="spacingAndGlyphs">E</tspan><tspan x="127.50" dy="-5.7" font-size="20" textLength="15.9" lengthAdjust="spacingAndGlyphs">-</tspan><tspan x="142.50" dy="5.7">4</tspan></text>
<text class="t" font-size="29" transform="translate(0 230.4) scale(1 1.070)" y="0" x="84.50 99.00 113.50 128.00 142.50">0.001</text>
<text class="t" font-size="29" transform="translate(0 168.7) scale(1 1.070)" y="0" x="99.00 113.50 128.00 142.50">0.01</text>
<text class="t" font-size="29" transform="translate(0 107.0) scale(1 1.070)" y="0" x="113.50 128.00 142.50">0.1</text>
</g>
<g id="xlabels">
<text class="t" font-size="29" transform="translate(0 759.0) scale(1 1.070)" y="0" x="143.25 157.75 172.25 186.75 201.25">0.015</text>
<text class="t" font-size="29" transform="translate(0 759.0) scale(1 1.070)" y="0" x="382.25 396.75 411.25 425.75 440.25">0.020</text>
<text class="t" font-size="29" transform="translate(0 759.0) scale(1 1.070)" y="0" x="621.25 635.75 650.25 664.75 679.25">0.025</text>
<text class="t" font-size="29" transform="translate(0 759.0) scale(1 1.070)" y="0" x="860.25 874.75 889.25 903.75 918.25">0.030</text>
</g>
<text class="t" font-size="36" transform="translate(597.2 805) scale(0.71 1)" text-anchor="middle">A</text>
<text class="t" font-size="37" transform="translate(73.2 375.3) rotate(-90) scale(0.73 1)" text-anchor="middle">B</text>
<g id="legend">
<rect x="1011.5" y="189.5" width="115" height="429" fill="#fff" stroke="#000" stroke-width="1" shape-rendering="crispEdges"/>
<rect x="1016" y="211" width="70" height="1" fill="#515151" shape-rendering="crispEdges"/>
<text class="t" font-size="36" transform="translate(1104.00 223.0) scale(0.773 1.000)">B</text>
<rect x="1016" y="249" width="70" height="1" fill="#F14040" shape-rendering="crispEdges"/>
<text class="t" font-size="36" transform="translate(1103.62 261.6) scale(0.798 1.000)">C</text>
<rect x="1016" y="288" width="70" height="1" fill="#1A6FDF" shape-rendering="crispEdges"/>
<text class="t" font-size="36" transform="translate(1104.08 300.2) scale(0.697 1.000)">D</text>
<rect x="1016" y="326" width="70" height="1" fill="#37AD6B" shape-rendering="crispEdges"/>
<text class="t" font-size="36" transform="translate(1103.91 338.8) scale(0.856 1.000)">E</text>
<rect x="1016" y="365" width="70" height="1" fill="#B177DE" shape-rendering="crispEdges"/>
<text class="t" font-size="36" transform="translate(1103.91 377.4) scale(0.860 1.000)">F</text>
<rect x="1016" y="403" width="70" height="1" fill="#CC9900" shape-rendering="crispEdges"/>
<text class="t" font-size="36" transform="translate(1103.76 416.0) scale(0.701 1.000)">G</text>
<rect x="1016" y="442" width="70" height="1" fill="#00CBCC" shape-rendering="crispEdges"/>
<text class="t" font-size="36" transform="translate(1104.09 454.6) scale(0.686 1.000)">H</text>
<rect x="1016" y="480" width="70" height="1" fill="#7D4E4E" shape-rendering="crispEdges"/>
<text class="t" font-size="36" transform="translate(1107.07 493.2) scale(1.019 1.000)">I</text>
<rect x="1016" y="519" width="70" height="1" fill="#8E8E00" shape-rendering="crispEdges"/>
<text class="t" font-size="36" transform="translate(1106.58 535.2) scale(1.088 1.150)">J</text>
<rect x="1016" y="557" width="70" height="1" fill="#FB6501" shape-rendering="crispEdges"/>
<text class="t" font-size="36" transform="translate(1104.11 570.4) scale(0.667 1.000)">K</text>
<rect x="1016" y="596" width="70" height="1" fill="#6699CC" shape-rendering="crispEdges"/>
<text class="t" font-size="36" transform="translate(1103.91 609.0) scale(0.860 1.000)">L</text>
</g>
</svg>
</body></html>
